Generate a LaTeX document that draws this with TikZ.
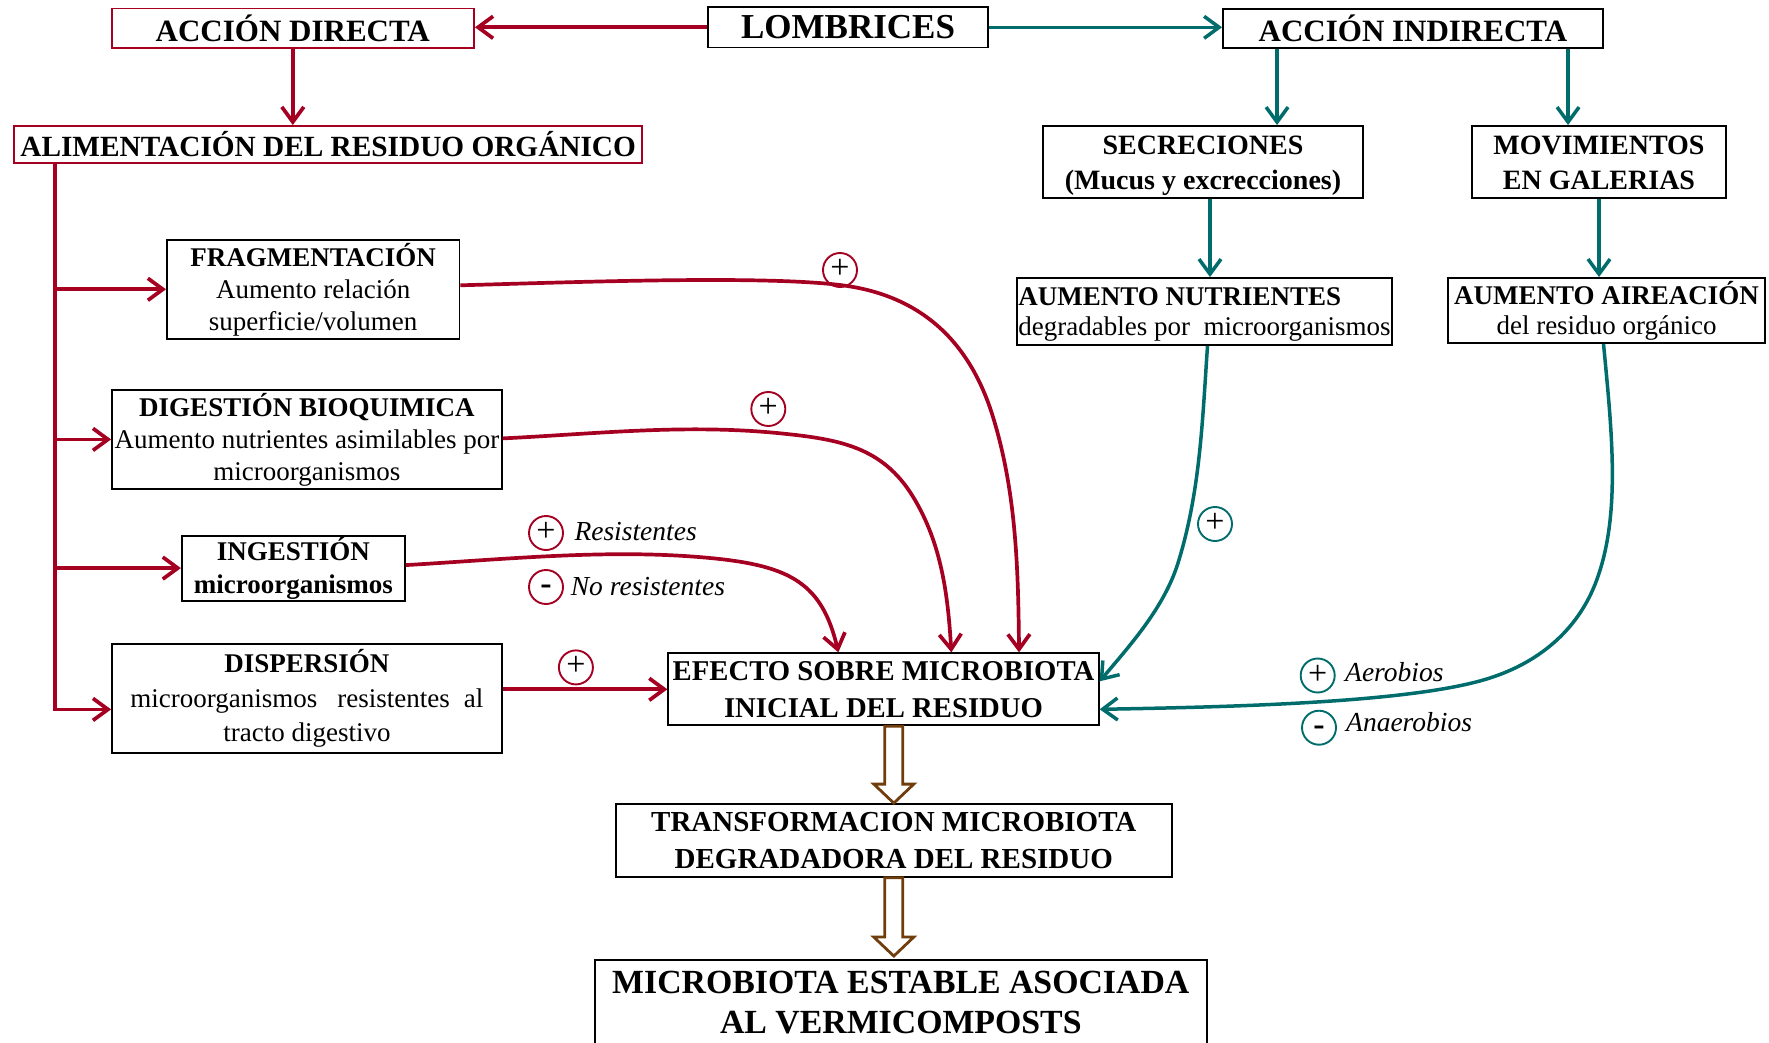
\documentclass[tikz,border=0pt]{standalone}
\usepackage{fontspec}
\setmainfont{Liberation Serif}
\usetikzlibrary{arrows.meta,calc}
\definecolor{myred}{RGB}{165,0,33}
\definecolor{myteal}{RGB}{0,108,108}
\definecolor{mybrown}{RGB}{112,62,12}
\newcommand\myfs[2]{\fontsize{#1}{#2}\selectfont}
\newcommand\hollowarrow[2]{\draw[hollow] ($(#1)+(-9,0)$) -- ($(#1)+(9,0)$) -- ($(#2)+(9,-19)$) -- ($(#2)+(20,-19)$) -- (#2) -- ($(#2)+(-20,-19)$) -- ($(#2)+(-9,-19)$) -- cycle;}
\begin{document}
\begin{tikzpicture}[x=1pt,y=-1pt,
  box/.style={draw=black, line width=1.9pt, inner sep=0pt, align=center, text=black},
  rbox/.style={box, draw=myred},
  rarr/.style={draw=myred, line width=3.7pt, -{Straight Barb[length=15pt,width=22pt]}},
  tarr/.style={draw=myteal, line width=3.5pt, -{Straight Barb[length=15pt,width=22pt]}},
  hollow/.style={draw=mybrown, line width=2.8pt, fill=white, line join=miter},
  sign/.style={circle, draw=myred, line width=1.9pt, minimum size=34pt, inner sep=0pt, font=\myfs{34}{34}, text height=17pt, text depth=0pt},
  msign/.style={sign, font=\myfs{34}{34}\bfseries, text height=15.6pt},
  tsign/.style={sign, draw=myteal},
  tmsign/.style={msign, draw=myteal},
  lab/.style={anchor=base west, inner sep=0pt, font=\myfs{27.5}{30}\itshape}]
\useasboundingbox (0,0) rectangle (1769,1043);
\clip (0,0) rectangle (1769,1043);

% boxes
\node[box, minimum width=280pt, minimum height=40.5pt, font=\myfs{35}{40}\bfseries] (lomb) at (848,27.3) {LOMBRICES};
\node[rbox, minimum width=362.4pt, minimum height=39.2pt, font=\myfs{31}{36}\bfseries] (dir) at (292.8,28.1) {ACCIÓN DIRECTA};
\node[box, minimum width=380pt, minimum height=38.7pt, font=\myfs{31}{36}\bfseries] (indir) at (1413,28.3) {ACCIÓN INDIRECTA};
\node[rbox, minimum width=627.7pt, minimum height=37pt, font=\myfs{29.3}{34}\bfseries] (alim) at (328.2,144.5) {ALIMENTACIÓN DEL RESIDUO ORGÁNICO};
\node[box, minimum width=320pt, minimum height=72pt, font=\myfs{28}{35}\bfseries] (secr) at (1203,162) {\rule{0pt}{26pt}SECRECIONES\\(Mucus y excrecciones)};
\node[box, minimum width=254pt, minimum height=72pt, font=\myfs{28}{35}\bfseries] (mov) at (1599,162) {\rule{0pt}{21pt}MOVIMIENTOS\\EN GALERIAS};
\node[box, minimum width=292.5pt, minimum height=98.7pt, font=\myfs{27}{32}] (frag) at (313.2,289.3) {\textbf{FRAGMENTACIÓN}\\Aumento relación\\superficie/volumen};
\node[box, minimum width=375pt, minimum height=67pt, font=\myfs{27}{30}, align=left] (nutr) at (1204.5,311.5) {\rule{0pt}{23pt}\textbf{AUMENTO NUTRIENTES}\\degradables por\ \ microorganismos};
\node[box, minimum width=317pt, minimum height=65pt, font=\myfs{27}{30}] (aire) at (1606.5,310.5) {\textbf{AUMENTO AIREACIÓN}\\del residuo orgánico};
\node[box, minimum width=389.7pt, minimum height=99.6pt, font=\myfs{27}{32}] (dig) at (306.9,439.4) {\textbf{DIGESTIÓN BIOQUIMICA}\\Aumento nutrientes asimilables por\\microorganismos};
\node[box, minimum width=222.9pt, minimum height=65pt, font=\myfs{27}{32.7}\bfseries] (ing) at (293.3,568.1) {INGESTIÓN\\microorganismos};
\node[box, minimum width=389.7pt, minimum height=109pt, font=\myfs{27}{34.5}] (disp) at (306.9,698.4) {\textbf{DISPERSIÓN}\\microorganismos\hspace{20pt}resistentes\hspace{14pt}al\\tracto digestivo};
\node[box, minimum width=430.4pt, minimum height=72pt, font=\myfs{28.7}{36.7}\bfseries] (efecto) at (883.5,689.3) {EFECTO SOBRE MICROBIOTA\\INICIAL DEL RESIDUO};
\node[box, minimum width=556.3pt, minimum height=72.7pt, font=\myfs{29}{36.6}\bfseries] (trans) at (893.8,840.4) {TRANSFORMACION MICROBIOTA\\DEGRADADORA DEL RESIDUO};
\node[box, minimum width=612.4pt, font=\myfs{33.8}{40}\bfseries] (micro) at (900.8,1011.65) {\rule{0pt}{33.3pt}MICROBIOTA ESTABLE ASOCIADA\\AL VERMICOMPOSTS\rule[-30pt]{0pt}{30pt}};

% top connectors
\draw[rarr] (lomb.west) -- (lomb.west -| dir.east);
\draw[tarr] (lomb.east) -- (lomb.east -| indir.west);
\draw[rarr] (dir.south) -- (dir.south |- alim.north);
\coordinate (i1) at ($(indir.south west)+(55,0)$);
\coordinate (i2) at ($(indir.south west)+(346,0)$);
\draw[tarr] (i1) -- (i1 |- secr.north);
\draw[tarr] (i2) -- (i2 |- mov.north);
\coordinate (s1) at ($(secr.south)+(7,0)$);
\draw[tarr] (s1) -- (s1 |- nutr.north);
\draw[tarr] (mov.south) -- (mov.south |- aire.north);

% trunk and branches
\coordinate (trunk) at ($(alim.south west)+(41.5,0)$);
\coordinate (d4) at ($(disp.west)+(0,11)$);
\draw[rarr] (trunk) |- (d4);
\draw[rarr] (trunk |- frag.west) -- (frag.west);
\draw[rarr] (trunk |- dig.west) -- (dig.west);
\draw[rarr] (trunk |- ing.west) -- (ing.west);

% curves into EFECTO
\coordinate (f0) at ($(frag.east)+(0,-4)$);
\coordinate (f1) at ($(efecto.north west)+(351.7,0)$);
\draw[rarr] (f0) .. controls (579.5,282) and (760,275.4) .. (840,285)
  .. controls (920,294.6) and (969.5,340.5) .. (993,417)
  .. controls (1016.5,493.5) and (1018.2,570.7) .. (f1);
\coordinate (d0) at ($(dig.east)+(0,-1)$);
\coordinate (d1) at ($(efecto.north west)+(284,0)$);
\draw[rarr] (d0) .. controls (596.7,433.8) and (685,423.8) .. (780,433.3)
  .. controls (838.7,439.2) and (882.3,446.5) .. (913,496.7)
  .. controls (941.6,543.5) and (947.9,595) .. (d1);
\coordinate (g0) at ($(ing.east)+(0,-3)$);
\coordinate (g1) at ($(efecto.north west)+(171,0)$);
\draw[rarr] (g0) .. controls (510,559) and (613,548.3) .. (713,558.3)
  .. controls (790.6,566) and (822.3,583.7) .. (g1);
\draw[rarr] (efecto.west -| disp.east) -- (efecto.west);
\coordinate (n0) at ($(nutr.south)+(3,0)$);
\coordinate (n1) at ($(efecto.east)+(0,-8)$);
\draw[tarr] (n0) .. controls (1202.4,420) and (1200.3,491.4) .. (1178,563)
  .. controls (1164,607.9) and (1130,645.3) .. (n1);
\coordinate (a0) at ($(aire.south)+(-3,0)$);
\coordinate (a1) at ($(efecto.east)+(0,20)$);
\draw[tarr] (a0) .. controls (1612,433) and (1620.8,514.3) .. (1596.7,580)
  .. controls (1577.8,631.6) and (1536.2,664.8) .. (1483.3,680)
  .. controls (1406.4,702.2) and (1240,706.9) .. (a1);

% hollow arrows
\coordinate (h1) at (efecto.south -| trans.north);
\hollowarrow{h1}{trans.north}
\coordinate (h2s) at (trans.south);
\coordinate (h2e) at ($(trans.south |- micro.north)+(0,-3)$);
\hollowarrow{h2s}{h2e}

% signs and labels
\node[sign] (p1) at (840,270) {+};
\node[sign] (p2) at (768.3,409) {+};
\node[sign] (p3) at (546,533) {+};
\node[msign] (m3) at (546,587) {-};
\node[sign] (p4) at (575.9,667.4) {+};
\node[tsign] (p5) at (1215,524) {+};
\node[tsign] (p6) at (1317.7,675.5) {+};
\node[tmsign] (m6) at (1319,727.7) {-};
\node[lab] (lres) at (574.3,540) {Resistentes};
\node[lab] (lnores) at (570.7,595) {No resistentes};
\node[lab] (laer) at (1345,681.7) {Aerobios};
\node[lab] (lanaer) at (1346,731.7) {Anaerobios};
\end{tikzpicture}
\end{document}
